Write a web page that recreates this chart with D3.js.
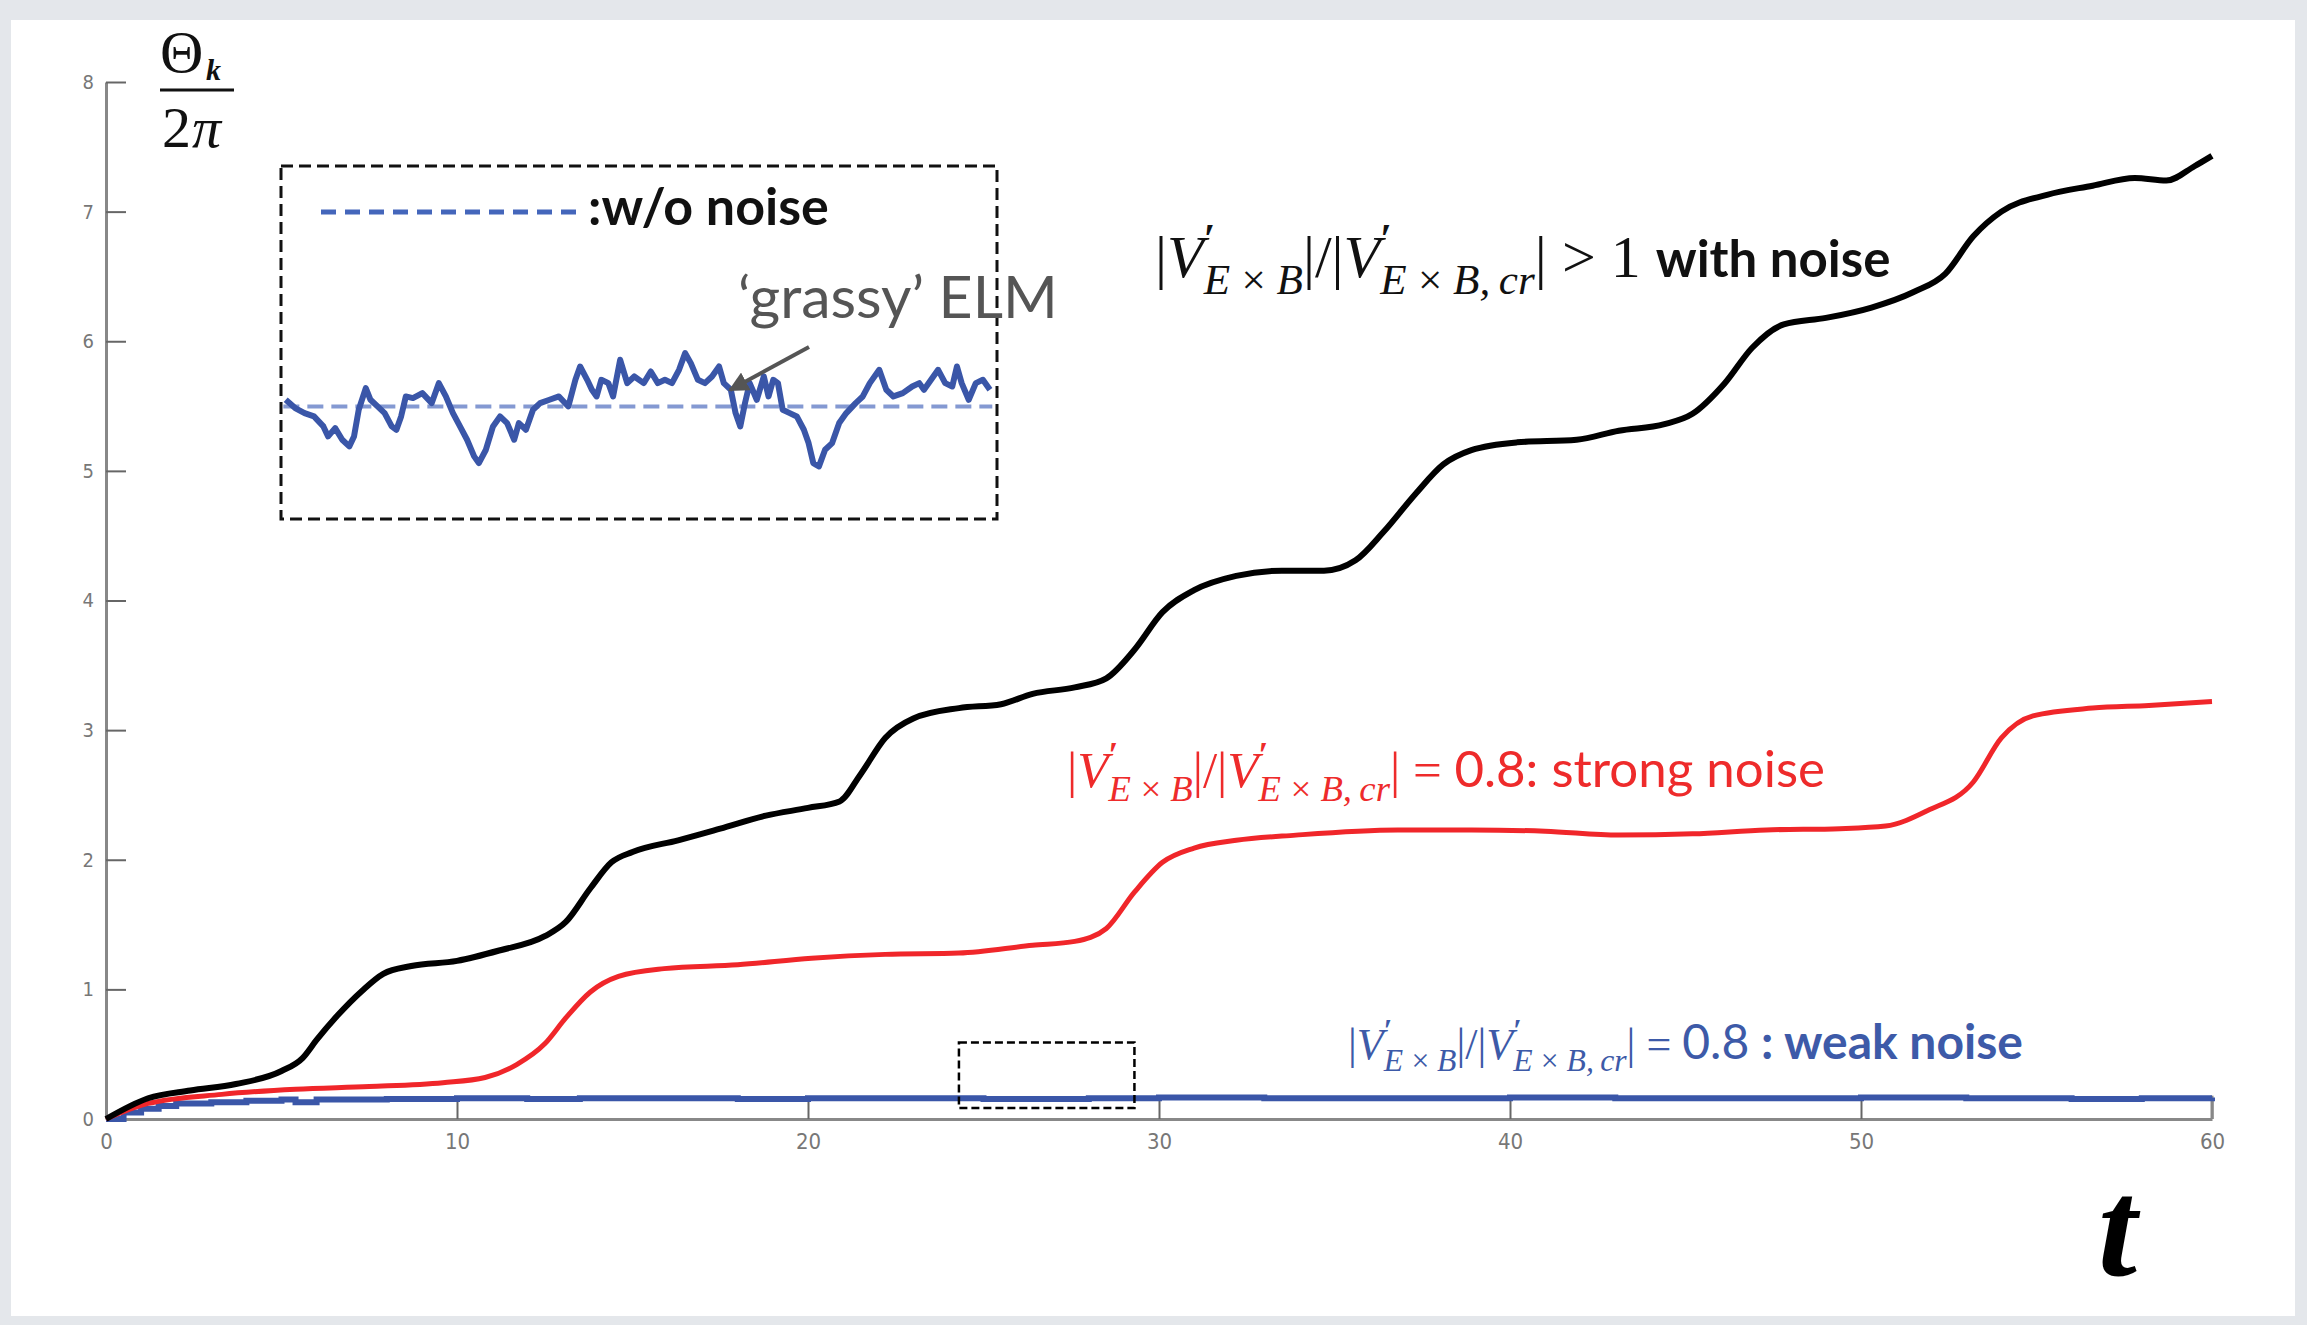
<!DOCTYPE html>
<html>
<head>
<meta charset="utf-8">
<script src="https://cdn.jsdelivr.net/npm/d3@7"></script>
<style>
  body { margin: 0; background: #e4e7eb; }
  svg { display: block; }
</style>
</head>
<body>
<div id="chart"></div>
<script>
// values
const tBlack = [0, 1.2, 2.4, 3.7, 5, 5.6, 6, 6.6, 7.3, 7.9, 8.7, 10, 11.2, 12.5, 13.1, 13.8, 14.4, 15, 16.3, 17.5, 18.8, 20, 20.9, 21.5, 22.2, 23, 24.3, 25.5, 26.4, 27.6, 28.5, 29.3, 30.1, 31, 32.2, 33.5, 34.7, 35.6, 36.4, 37.3, 38.1, 38.9, 40.2, 41.9, 43.1, 44.4, 45.2, 46.1, 46.9, 47.8, 49, 50.3, 51.5, 52.4, 53.2, 54, 55.3, 56.6, 57.8, 58.7, 59.5, 60];
const strongNoise = [0, 0.16, 0.22, 0.27, 0.37, 0.47, 0.61, 0.8, 0.99, 1.12, 1.18, 1.22, 1.3, 1.41, 1.52, 1.78, 1.98, 2.06, 2.15, 2.24, 2.34, 2.4, 2.45, 2.66, 2.94, 3.09, 3.17, 3.2, 3.28, 3.33, 3.4, 3.62, 3.91, 4.08, 4.19, 4.23, 4.23, 4.31, 4.53, 4.82, 5.05, 5.16, 5.22, 5.24, 5.31, 5.36, 5.44, 5.67, 5.95, 6.13, 6.18, 6.26, 6.38, 6.52, 6.81, 7.0, 7.13, 7.2, 7.26, 7.24, 7.35, 7.43];

const tRed = [0, 1.2, 3.3, 5.4, 7.5, 9.6, 10.8, 11.7, 12.5, 13.1, 13.8, 14.6, 15.9, 18, 20.1, 22.2, 24.3, 26.4, 27.6, 28.5, 29.3, 30.1, 31, 32.2, 33.9, 36.8, 38.9, 41, 43.1, 45.2, 47.3, 49.4, 50.7, 51.9, 53.2, 54, 54.9, 56.6, 58.2, 60];
const mediumNoise = [0, 0.12, 0.19, 0.23, 0.25, 0.28, 0.32, 0.42, 0.58, 0.78, 0.98, 1.1, 1.16, 1.19, 1.24, 1.27, 1.28, 1.34, 1.37, 1.47, 1.75, 1.98, 2.09, 2.15, 2.19, 2.23, 2.23, 2.22, 2.19, 2.2, 2.23, 2.24, 2.26, 2.38, 2.6, 2.94, 3.11, 3.17, 3.19, 3.22];

const tBlue = [0, 0.5, 1, 1.5, 2, 3, 4, 5, 5.4, 6, 8, 10, 12, 13.5, 15, 18, 20, 22, 25, 28, 30, 33, 36, 40, 43, 46, 50, 53, 56, 58, 60];
const weakNoise = [0, 0.05, 0.08, 0.1, 0.12, 0.13, 0.14, 0.15, 0.13, 0.15, 0.155, 0.16, 0.155, 0.16, 0.16, 0.155, 0.16, 0.16, 0.155, 0.16, 0.165, 0.16, 0.16, 0.165, 0.16, 0.16, 0.165, 0.16, 0.155, 0.16, 0.165];

// inset: zoomed weak-noise trace, deviation from the noiseless level
const insetPos = [30, 50, 70, 90, 110, 120, 135, 150, 165, 175, 185, 200, 210, 225, 240, 255, 265, 275, 285, 300, 320, 340, 355, 370, 385, 400, 415, 430, 440, 455, 470, 485, 500, 515, 525, 540, 555, 570, 590, 610, 630, 645, 655, 670, 680, 690, 700, 715, 725, 740, 755, 770, 790, 805, 820, 835, 850, 865, 878, 890, 905, 920, 935, 950, 960, 975, 985, 995, 1005, 1015, 1030, 1045, 1055, 1065, 1075, 1085, 1100, 1115, 1130, 1140, 1150, 1162, 1175, 1190, 1205, 1220, 1240, 1255, 1270, 1290, 1305, 1320, 1340, 1360, 1375, 1385, 1400, 1415, 1430, 1445, 1455, 1465, 1480, 1495, 1510, 1525];
const insetDev = [20, -5, -20, -30, -60, -90, -65, -100, -120, -90, -10, 55, 20, 0, -20, -60, -70, -30, 30, 25, 40, 10, 70, 30, -20, -60, -100, -150, -170, -130, -60, -30, -50, -100, -50, -70, -10, 10, 20, 30, 0, 80, 120, 80, 50, 30, 80, 70, 30, 140, 70, 90, 70, 105, 70, 80, 70, 110, 160, 130, 80, 70, 90, 120, 70, 50, -20, -60, 10, 70, 20, 90, 30, 80, 70, -10, -20, -30, -70, -110, -170, -180, -130, -110, -50, -20, 10, 30, 70, 110, 50, 30, 40, 60, 70, 50, 80, 110, 70, 60, 120, 70, 20, 70, 80, 50];

const xTicks = [0, 10, 20, 30, 40, 50, 60];
const yTicks = [0, 1, 2, 3, 4, 5, 6, 7, 8];
// small dashed box marking the zoomed window [t0, t1] x [v0, v1]
const zoomWindow = [24.3, 29.3, 0.085, 0.59];

const W = 2307, H = 1325;
const svg = d3.select('#chart').append('svg')
    .attr('width', W)
    .attr('height', H);

svg.append('rect')
    .attr('x', 11).attr('y', 20)
    .attr('width', 2284).attr('height', 1296)
    .attr('fill', '#fff');

const x = d3.scaleLinear().domain([0, 60]).range([106, 2212]);
const y = d3.scaleLinear().domain([0, 8]).range([1119, 82]);

const axisColor = '#888';

// x axis, ticks pointing up into the plot
const gx = svg.append('g')
    .attr('transform', `translate(0, ${y(0)})`)
    .call(d3.axisBottom(x).tickValues(xTicks).tickSize(-20).tickPadding(14).tickSizeOuter(0));
gx.select('.domain').attr('stroke', axisColor).attr('stroke-width', 3);
gx.selectAll('.tick line').attr('stroke', '#666').attr('stroke-width', 2);
gx.selectAll('.tick text')
    .attr('fill', '#777')
    .style('font-family', '"Liberation Sans Narrow", "DejaVu Sans Condensed", sans-serif')
    .style('font-size', '22px');

// y axis, ticks pointing right
const gy = svg.append('g')
    .attr('transform', `translate(${x(0)}, 0)`)
    .call(d3.axisLeft(y).tickValues(yTicks).tickSize(-20).tickPadding(12).tickSizeOuter(0));
gy.select('.domain').attr('stroke', axisColor).attr('stroke-width', 3);
gy.selectAll('.tick line').attr('stroke', '#666').attr('stroke-width', 2);
gy.selectAll('.tick text')
    .attr('fill', '#777')
    .style('font-family', '"Liberation Sans Narrow", "DejaVu Sans Condensed", sans-serif')
    .style('font-size', '20px');

// short piece of the right frame edge
svg.append('line')
    .attr('x1', x(60)).attr('x2', x(60))
    .attr('y1', y(0)).attr('y2', y(0.18))
    .attr('stroke', axisColor).attr('stroke-width', 3);

const line = d3.line()
    .x(d => x(d[0]))
    .y(d => y(d[1]))
    .curve(d3.curveMonotoneX);

svg.append('path')
    .datum(tBlue.map((t, i) => [t, weakNoise[i]]))
    .attr('d', d3.line().x(d => x(d[0])).y(d => y(d[1])).curve(d3.curveStepAfter))
    .attr('fill', 'none').attr('stroke', '#3a56a8').attr('stroke-width', 6);

svg.append('path')
    .datum(tRed.map((t, i) => [t, mediumNoise[i]]))
    .attr('d', line)
    .attr('fill', 'none').attr('stroke', '#f0262a').attr('stroke-width', 5);

svg.append('path')
    .datum(tBlack.map((t, i) => [t, strongNoise[i]]))
    .attr('d', line)
    .attr('fill', 'none').attr('stroke', '#000').attr('stroke-width', 6);

// zoom window box
svg.append('rect')
    .attr('x', x(zoomWindow[0])).attr('y', y(zoomWindow[3]))
    .attr('width', x(zoomWindow[1]) - x(zoomWindow[0]))
    .attr('height', y(zoomWindow[2]) - y(zoomWindow[3]))
    .attr('fill', 'none').attr('stroke', '#000').attr('stroke-width', 2.5)
    .attr('stroke-dasharray', '8 4');

// inset
const inset = { x0: 281, y0: 166, x1: 997, y1: 519 };
const ix = d3.scaleLinear().domain([20, 1540]).range([inset.x0, inset.x1]);
const iy = d3.scaleLinear().domain([-338, 722]).range([inset.y1, inset.y0]);

svg.append('line')
    .attr('x1', ix(25)).attr('x2', ix(1530))
    .attr('y1', iy(0)).attr('y2', iy(0))
    .attr('stroke', '#8499d2').attr('stroke-width', 4)
    .attr('stroke-dasharray', '16 8');

svg.append('path')
    .datum(insetPos.map((p, i) => [p, insetDev[i]]))
    .attr('d', d3.line().x(d => ix(d[0])).y(d => iy(d[1])))
    .attr('fill', 'none').attr('stroke', '#3a56a8').attr('stroke-width', 6)
    .attr('stroke-linejoin', 'round');

svg.append('rect')
    .attr('x', inset.x0).attr('y', inset.y0)
    .attr('width', inset.x1 - inset.x0).attr('height', inset.y1 - inset.y0)
    .attr('fill', 'none').attr('stroke', '#111').attr('stroke-width', 3)
    .attr('stroke-dasharray', '12 6');

// inset legend
svg.append('line')
    .attr('x1', 321).attr('x2', 584).attr('y1', 212).attr('y2', 212)
    .attr('stroke', '#4466bb').attr('stroke-width', 5)
    .attr('stroke-dasharray', '15 9');
svg.append('text')
    .attr('x', 588).attr('y', 225)
    .style('font-family', 'Lato, sans-serif').style('font-weight', 'bold')
    .style('font-size', '52px').attr('fill', '#111')
    .text(':w/o noise');

// 'grassy' ELM annotation
svg.append('defs').append('marker')
    .attr('id', 'arr').attr('viewBox', '0 0 10 10')
    .attr('refX', 9).attr('refY', 5)
    .attr('markerWidth', 5).attr('markerHeight', 5)
    .attr('orient', 'auto')
    .append('path').attr('d', 'M0,0 L10,5 L0,10 z').attr('fill', '#555');
svg.append('line')
    .attr('x1', 809).attr('y1', 347).attr('x2', 730).attr('y2', 390)
    .attr('stroke', '#555').attr('stroke-width', 4)
    .attr('marker-end', 'url(#arr)');
svg.append('text')
    .attr('x', 738).attr('y', 318)
    .style('font-family', 'Lato, sans-serif')
    .style('font-size', '59px').attr('fill', '#555')
    .text('\u2018grassy\u2019 ELM');

// math-style labels: parts are [text, kind] where kind is n, i, sup, sub, sans, sansb
function mathLabel(px, py, size, sansSize, color, parts) {
    const txt = svg.append('text')
        .attr('x', px).attr('y', py)
        .attr('fill', color)
        .style('font-family', '"Liberation Serif", serif')
        .style('font-size', size + 'px');
    let shift = 0;
    let lastSup = null;
    parts.forEach(([s, kind]) => {
        const ts = txt.append('tspan').text(s);
        let target = 0;
        if (kind === 'sup') { target = -0.4 * size; ts.style('font-size', (0.7 * size) + 'px').style('font-weight', 'bold'); }
        if (kind === 'sub') { target = 0.28 * size; ts.style('font-size', (0.72 * size) + 'px').style('font-style', 'italic'); }
        if (kind === 'i') ts.style('font-style', 'italic');
        if (kind === 'sans' || kind === 'sansb') {
            ts.style('font-family', 'Lato, sans-serif').style('font-size', sansSize + 'px');
            if (kind === 'sansb') ts.style('font-weight', 'bold');
        }
        ts.attr('dy', target - shift);
        shift = target;
        if (kind === 'sub' && lastSup) ts.attr('dx', -lastSup.node().getComputedTextLength());
        lastSup = kind === 'sup' ? ts : null;
    });
    return txt;
}

const ratio = [
    ['|', 'n'], ['V', 'i'], ['\u2032', 'sup'], ['E\u2009\u00d7\u2009B', 'sub'], ['|/|', 'n'],
    ['V', 'i'], ['\u2032', 'sup'], ['E\u2009\u00d7\u2009B,\u2009cr', 'sub'], ['|', 'n']
];

mathLabel(1155, 277, 60, 51, '#111', ratio.concat([[' > 1 ', 'n'], ['with noise', 'sansb']]));
mathLabel(1067, 787, 51, 51, '#ee2b2b', ratio.concat([[' = ', 'n'], ['0.8: strong noise', 'sans']]));
mathLabel(1348, 1059, 44, 48, '#3d5aa8', ratio.concat([[' = ', 'n'], ['0.8', 'sans'], [' : weak noise', 'sansb']]));

// axis titles
const yt = svg.append('g').style('font-family', '"Liberation Serif", serif').attr('fill', '#111');
yt.append('text').attr('x', 160).attr('y', 72).style('font-size', '60px').text('\u0398');
yt.append('text').attr('x', 206).attr('y', 80).style('font-size', '30px')
    .style('font-style', 'italic').style('font-weight', 'bold').text('k');
yt.append('line').attr('x1', 160).attr('x2', 234).attr('y1', 90).attr('y2', 90)
    .attr('stroke', '#111').attr('stroke-width', 3);
yt.append('text').attr('x', 162).attr('y', 147).style('font-size', '58px').text('2');
yt.append('text').attr('x', 192).attr('y', 147).style('font-size', '58px')
    .style('font-style', 'italic').text('\u03c0');

svg.append('text')
    .attr('x', 2098).attr('y', 1275)
    .style('font-family', '"Liberation Serif", serif')
    .style('font-style', 'italic').style('font-weight', 'bold')
    .style('font-size', '140px').attr('fill', '#000')
    .text('t');
</script>
</body>
</html>
